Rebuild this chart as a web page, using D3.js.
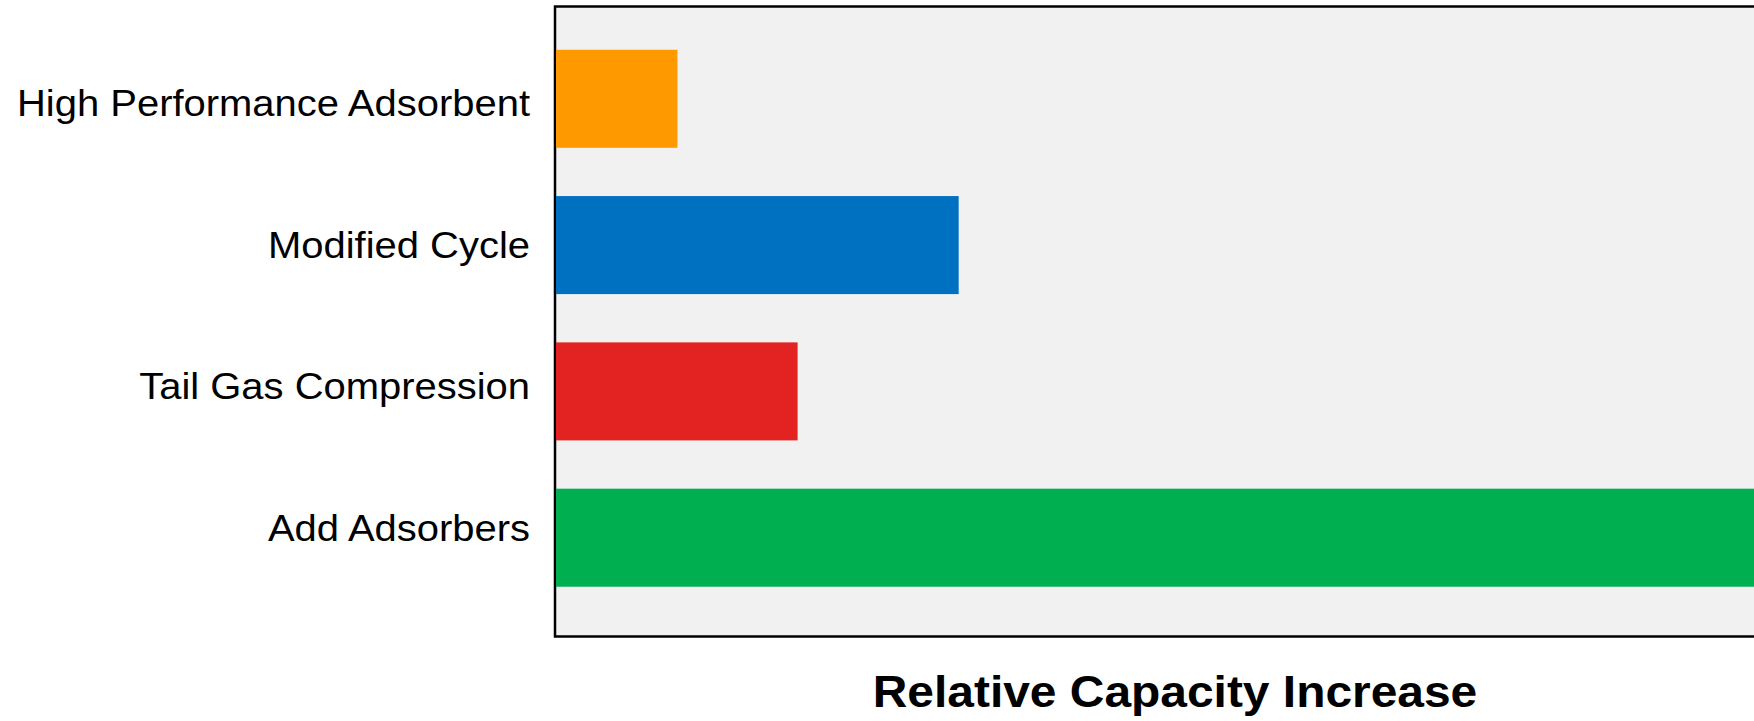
<!DOCTYPE html>
<html lang="en">
<head>
    <meta charset="UTF-8">
    <title>Relative Capacity Increase</title>
    <script src="https://d3js.org/d3.v7.min.js"></script>
    <style>
        body { margin: 0; overflow: hidden; background: #fff; }
        text { font-family: "Liberation Sans", Arial, sans-serif; fill: #000; }
    </style>
</head>
<body>
    <svg id="chart" width="1754" height="721"></svg>
    <script>
        // data
        const categories = ["High Performance Adsorbent", "Modified Cycle", "Tail Gas Compression", "Add Adsorbers"];
        const values = [0.098, 0.325, 0.195, 1.0];
        const colors = ["#FF9900", "#0070C0", "#E32222", "#00AF50"];
        const axisTitle = "Relative Capacity Increase";

        const margin = {top: 6.5, left: 555, right: -41, bottom: 84.5},
            width = 1754 - margin.left - margin.right,
            height = 721 - margin.top - margin.bottom;

        const svg = d3.select("#chart");
        const g = svg.append("g")
            .attr("transform", "translate(" + margin.left + "," + margin.top + ")");

        const x = d3.scaleLinear().domain([0, 1]).range([1, width]);
        const y = d3.scaleBand()
            .domain(categories)
            .range([0, height])
            .paddingInner(0.33)
            .paddingOuter(0.318)
            .align(0.465);
        // labels sit on slightly tighter spacing than the bars
        const yLabel = d3.scalePoint()
            .domain(categories)
            .range([0, height])
            .padding(0.7215)
            .align(0.471);

        // plot frame
        g.append("rect")
            .attr("x", 0)
            .attr("y", 0)
            .attr("width", width)
            .attr("height", height)
            .attr("fill", "#F1F1F1")
            .attr("stroke", "#000")
            .attr("stroke-width", 2.5);

        g.selectAll(".bar")
            .data(categories)
            .join("rect")
            .attr("class", "bar")
            .attr("x", x(0))
            .attr("y", d => y(d))
            .attr("width", (d, i) => x(values[i]) - x(0))
            .attr("height", y.bandwidth())
            .attr("fill", (d, i) => colors[i]);

        // category labels (source text is a bit stretched horizontally)
        const sx = 1.08;
        g.selectAll(".label")
            .data(categories)
            .join("text")
            .attr("class", "label")
            .attr("text-anchor", "end")
            .attr("font-size", 37)
            .attr("dy", "0.35em")
            .attr("transform", d => "translate(-25," + yLabel(d) + ") scale(" + sx + ",1)")
            .text(d => d);

        g.append("text")
            .attr("text-anchor", "middle")
            .attr("font-size", 45)
            .attr("font-weight", "bold")
            .attr("transform", "translate(" + (width / 2) + "," + (height + 70.5) + ") scale(1.065,1)")
            .text(axisTitle);
    </script>
</body>
</html>
